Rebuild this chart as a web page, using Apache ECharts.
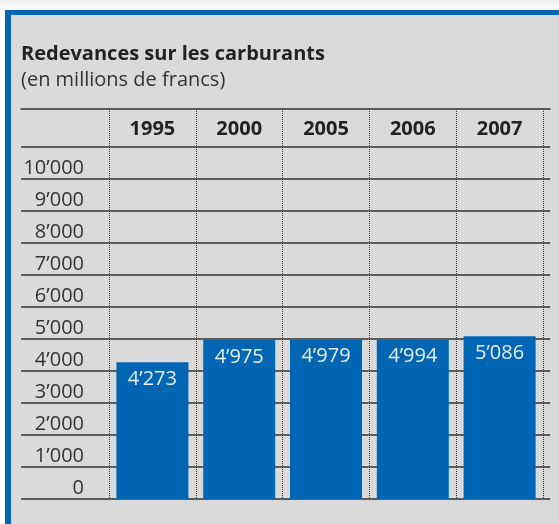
<!DOCTYPE html>
<html>
<head>
<meta charset="utf-8">
<script src="https://cdn.jsdelivr.net/npm/echarts@6/dist/echarts.min.js"></script>
<style>
  html, body { margin: 0; padding: 0; }
  body {
    width: 559px; height: 524px; position: relative; overflow: hidden;
    background: linear-gradient(#ececec, #ffffff 9px);
  }
  .panel {
    position: absolute; left: 5px; top: 10px; right: 0; bottom: 0;
    background: #dadada;
    border-top: 5px solid #0066b3;
    border-left: 6px solid #0066b3;
  }
  #chart { position: absolute; left: 0; top: 0; width: 559px; height: 524px; }
</style>
</head>
<body>
<div class="panel"></div>
<div id="chart"></div>
<script>
var years = ['1995', '2000', '2005', '2006', '2007'];
var revenues = [4273, 4975, 4979, 4994, 5086];

var chartDom = document.getElementById('chart');
var myChart = echarts.init(chartDom, null, { renderer: 'canvas' });
var font = "'Open Sans', sans-serif";

function thousands(v) {
    return String(v).replace(/\B(?=(\d{3})+(?!\d))/g, '\u2019');
}

// 32px per 1000 in both grids: lines grid 147..499, bars grid 109..499
var option = {
    title: {
        text: 'Redevances sur les carburants',
        subtext: '(en millions de francs)',
        left: 16,
        top: 39,
        itemGap: 6,
        textStyle: { fontFamily: font, fontSize: 20, fontWeight: 'bold', color: '#222' },
        subtextStyle: { fontFamily: font, fontSize: 20, color: '#333' }
    },
    grid: [
        { left: 21, right: 9, top: 147, bottom: 25 },
        { left: 109, right: 16, top: 109, bottom: 25 }
    ],
    xAxis: [
        {
            gridIndex: 0,
            type: 'value',
            min: 0,
            max: 1,
            position: 'top',
            offset: 38,
            axisLine: { show: true, onZero: false, lineStyle: { color: '#333', width: 1.5 } },
            axisTick: { show: false },
            axisLabel: { show: false },
            splitLine: { show: false }
        },
        {
            gridIndex: 1,
            type: 'category',
            data: years,
            position: 'top',
            axisLine: { show: false },
            axisTick: { show: false },
            axisLabel: {
                inside: true,
                margin: 10,
                fontFamily: font,
                fontSize: 20,
                fontWeight: 'bold',
                color: '#222'
            },
            splitLine: { show: true, lineStyle: { type: 'dotted', color: '#333', width: 1 } }
        }
    ],
    yAxis: [
        {
            gridIndex: 0,
            type: 'value',
            min: 0,
            max: 11000,
            interval: 1000,
            axisLine: { show: false },
            axisTick: { show: false },
            axisLabel: {
                inside: true,
                margin: 63,
                align: 'right',
                verticalAlign: 'bottom',
                padding: [0, 0, 1, 0],
                fontFamily: font,
                fontSize: 20,
                color: '#333',
                formatter: function (v) {
                    return v > 10000 ? '' : thousands(v);
                }
            },
            splitLine: { show: true, lineStyle: { color: '#333', width: 1.5 } }
        },
        {
            gridIndex: 1,
            type: 'value',
            min: 0,
            max: 12187.5,
            show: false
        }
    ],
    series: [{
        type: 'bar',
        xAxisIndex: 1,
        yAxisIndex: 1,
        data: revenues,
        barWidth: 72,
        itemStyle: { color: '#0066b3' },
        label: {
            show: true,
            position: 'insideTop',
            distance: 7,
            fontFamily: font,
            fontSize: 20,
            color: '#e6edf5',
            formatter: function (p) {
                return thousands(p.value);
            }
        },
        animation: false
    }]
};

option && myChart.setOption(option);
</script>
</body>
</html>
